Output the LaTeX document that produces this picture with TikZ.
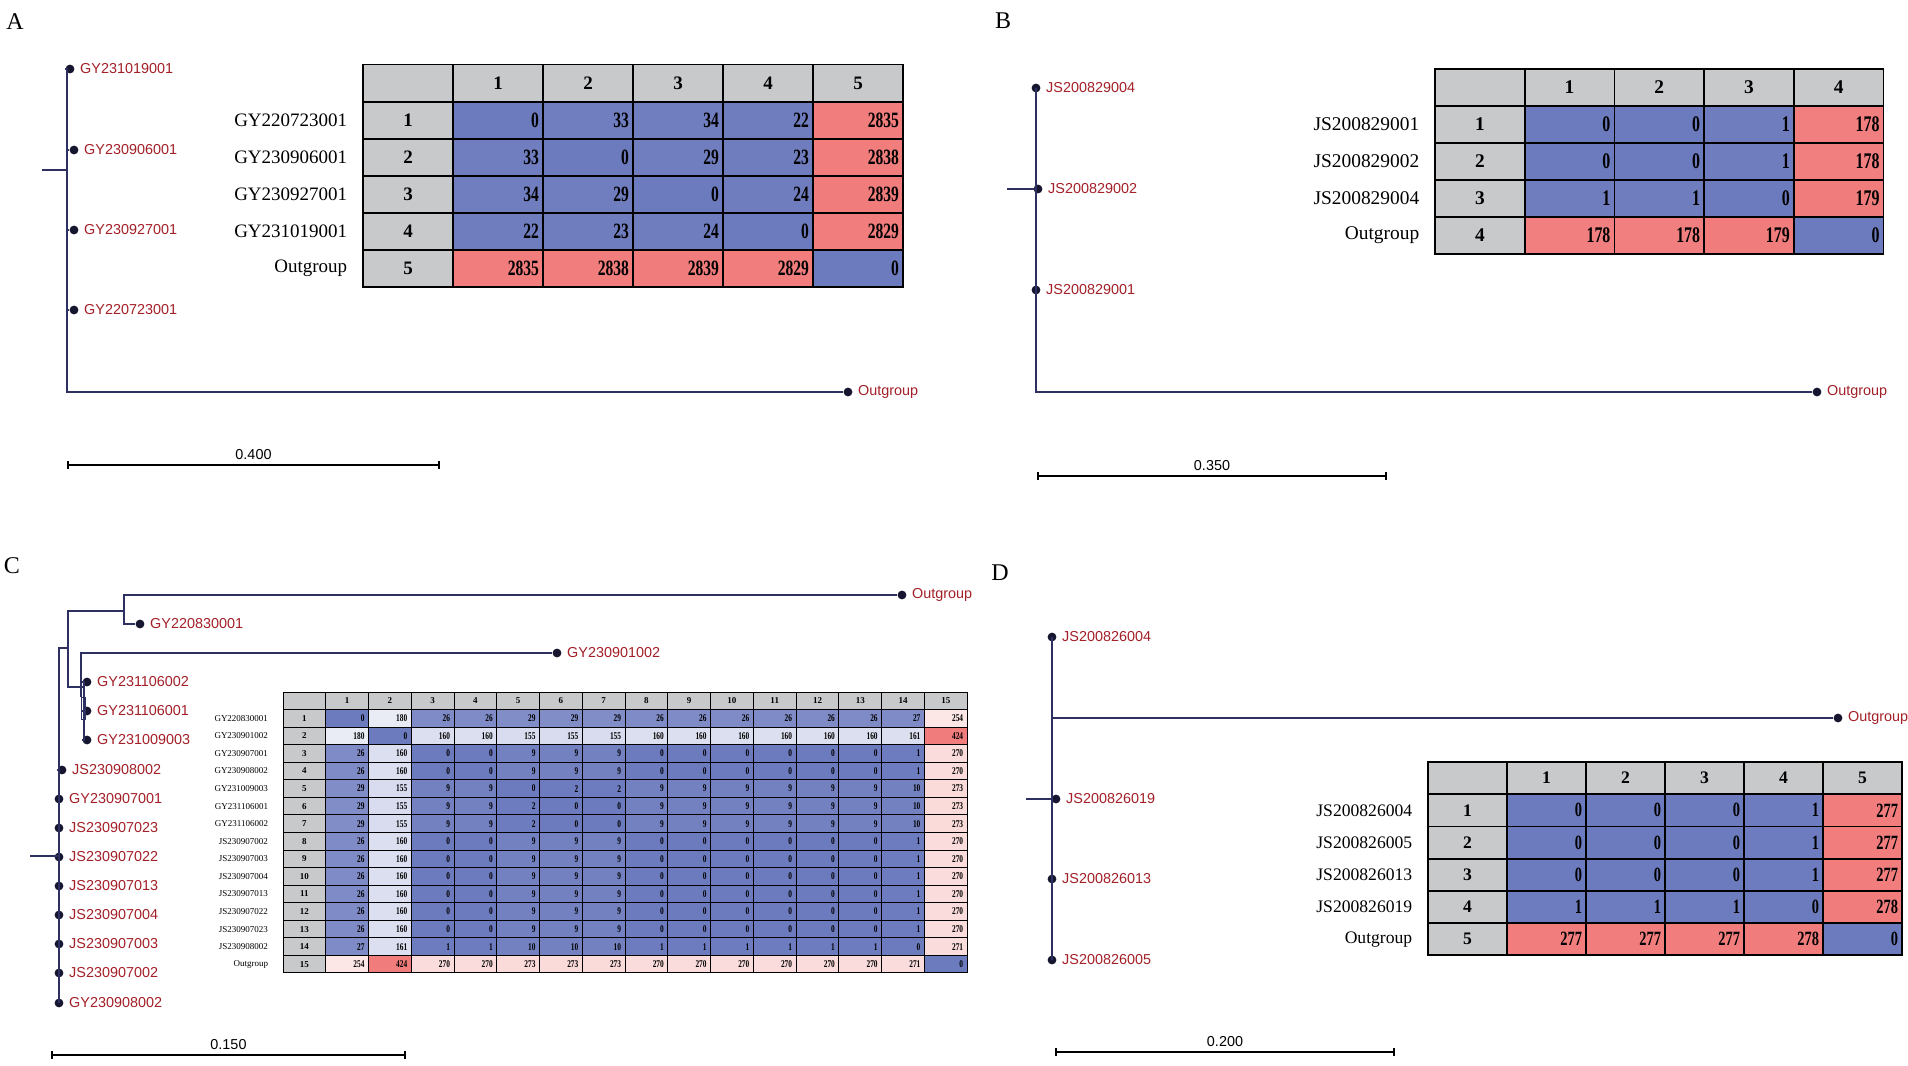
\documentclass[tikz,border=0pt]{standalone}
\usepackage{fontspec}
\setmainfont{Liberation Serif}
\setsansfont{Liberation Sans}
\usetikzlibrary{positioning, arrows.meta}

\definecolor{treeline}{RGB}{46,48,98}
\definecolor{tipdot}{RGB}{22,22,48}
\definecolor{taxred}{RGB}{163,32,40}
\definecolor{cblue}{RGB}{108,122,190}
\definecolor{cred}{RGB}{241,124,124}
\definecolor{cgray}{RGB}{200,201,203}

% distance matrix: prefix, x0, y0, cell w, cell h, max value, scope options, row names, values
\newcommand{\distmatrix}[9]{%
  \begin{scope}[#7, every node/.append style={minimum width=#4*0.5pt, minimum height=#5*0.5pt}]
    \pgfmathsetmacro{\tw}{#4*0.5-4}
    \node[hdcell] (#1-0-0) at ({#2+0.5*#4},{#3+0.5*#5}) {};
    \foreach \lab [count=\r] in {#8} {
      \node[hdcell] (#1-0-\r) at ({#2+(\r+0.5)*#4},{#3+0.5*#5}) {\r};
      \node[hdcell] (#1-\r-0) at ({#2+0.5*#4},{#3+(\r+0.5)*#5}) {\r};
      \node[rowlab, left=7pt of #1-\r-0] (#1-name-\r) {\mdseries\lab};
    }
    \foreach \row [count=\r] in {#9} {
      \foreach \v [count=\c] in \row {
        \pgfmathtruncatemacro{\bp}{max(0,100-200*(\v/#6))}
        \pgfmathtruncatemacro{\rp}{max(0,200*(\v/#6)-100)}
        \ifnum\rp>0 \def\cellcol{cred!\rp!white}\else\def\cellcol{cblue!\bp!white}\fi
        \node[valcell, fill=\cellcol, text width=\tw pt] (#1-\r-\c) at ({#2+(\c+0.5)*#4},{#3+(\r+0.5)*#5}) {\scalebox{0.82}[1.15]{\v}};
      }
    }
  \end{scope}}

\begin{document}
\begin{tikzpicture}[x=0.5pt, y=-0.5pt]
  \tikzstyle{branch} = [draw=treeline, line width=1pt]
  \tikzstyle{tip} = [circle, fill=tipdot, inner sep=0pt, minimum size=4.4pt]
  \tikzstyle{taxon} = [font=\sffamily\fontsize{7.2}{7.2}\selectfont, text=taxred, inner sep=0pt]
  \tikzstyle{scalebar} = [line width=0.9pt, {Bar[width=4pt]}-{Bar[width=4pt]}]
  \tikzstyle{barlabel} = [font=\sffamily\fontsize{7.2}{7.2}\selectfont, inner sep=0pt]
  \tikzstyle{panel} = [font=\fontsize{12}{12}\selectfont, inner sep=0pt]
  \tikzstyle{hdcell} = [draw, fill=cgray, inner sep=0pt]
  \tikzstyle{valcell} = [draw, inner sep=1.5pt, align=right]
  \tikzstyle{rowlab} = [minimum width=0pt, minimum height=0pt, inner sep=0pt]

  \useasboundingbox (0,0) rectangle (1908,1066);
  \fill[white] (0,0) rectangle (1908,1066);

  % Panel letters
  \node[panel] (A-tag) at (15,22) {A};
  \node[panel] (B-tag) at (1003,21) {B};
  \node[panel] (C-tag) at (12,566) {C};
  \node[panel] (D-tag) at (1000,573) {D};

  % Tree A
  \coordinate (A-root) at (42,170);
  \coordinate (A-node) at (67,170);
  \node[tip] (A-t1) at (70,69) {};
  \node[tip] (A-t2) at (74,150) {};
  \node[tip] (A-t3) at (74,230) {};
  \node[tip] (A-t4) at (74,310) {};
  \node[tip] (A-out) at (848,392) {};
  \node[taxon, right=2.5pt of A-t1] (A-l1) {GY231019001};
  \node[taxon, right=2.5pt of A-t2] (A-l2) {GY230906001};
  \node[taxon, right=2.5pt of A-t3] (A-l3) {GY230927001};
  \node[taxon, right=2.5pt of A-t4] (A-l4) {GY220723001};
  \node[taxon, right=2.5pt of A-out] (A-lout) {Outgroup};
  \draw[branch] (A-root) -- (A-node);
  \foreach \t in {t1,t2,t3,t4,out} \draw[branch] (A-node) |- (A-\t);
  \coordinate (A-s0) at (67,465);
  \coordinate (A-s1) at (440,465);
  \draw[scalebar] (A-s0) -- (A-s1) node[barlabel, midway, above=2pt] (A-scale) {0.400};

  % Tree B
  \coordinate (B-root) at (1007,189);
  \coordinate (B-node) at (1036,189);
  \node[tip] (B-t1) at (1036,88) {};
  \node[tip] (B-t2) at (1038,189) {};
  \node[tip] (B-t3) at (1036,290) {};
  \node[tip] (B-out) at (1817,392) {};
  \node[taxon, right=2.5pt of B-t1] (B-l1) {JS200829004};
  \node[taxon, right=2.5pt of B-t2] (B-l2) {JS200829002};
  \node[taxon, right=2.5pt of B-t3] (B-l3) {JS200829001};
  \node[taxon, right=2.5pt of B-out] (B-lout) {Outgroup};
  \draw[branch] (B-root) -- (B-node);
  \foreach \t in {t1,t2,t3,out} \draw[branch] (B-node) |- (B-\t);
  \coordinate (B-s0) at (1037,476);
  \coordinate (B-s1) at (1387,476);
  \draw[scalebar] (B-s0) -- (B-s1) node[barlabel, midway, above=2pt] (B-scale) {0.350};

  % Tree C
  \coordinate (C-root) at (30,856);
  \coordinate (C-n0) at (59,856);
  \coordinate (C-n1) at (68,648);
  \coordinate (C-n2) at (124,611);
  \coordinate (C-n3) at (84,687);
  \coordinate (C-n4) at (81,697);
  \node[tip] (C-out) at (902,595) {};
  \node[tip] (C-t1) at (140,624) {};
  \node[tip] (C-t2) at (557,653) {};
  \node[tip] (C-t3) at (87,682) {};
  \node[tip] (C-t4) at (87,711) {};
  \node[tip] (C-t5) at (87,740) {};
  \node[tip] (C-t6) at (62,770) {};
  \node[tip] (C-t7) at (59,799) {};
  \node[tip] (C-t8) at (59,828) {};
  \node[tip] (C-t9) at (59,857) {};
  \node[tip] (C-t10) at (59,886) {};
  \node[tip] (C-t11) at (59,915) {};
  \node[tip] (C-t12) at (59,944) {};
  \node[tip] (C-t13) at (59,973) {};
  \node[tip] (C-t14) at (59,1003) {};
  \node[taxon, right=2.5pt of C-out] (C-lout) {Outgroup};
  \node[taxon, right=2.5pt of C-t1] (C-l1) {GY220830001};
  \node[taxon, right=2.5pt of C-t2] (C-l2) {GY230901002};
  \node[taxon, right=2.5pt of C-t3] (C-l3) {GY231106002};
  \node[taxon, right=2.5pt of C-t4] (C-l4) {GY231106001};
  \node[taxon, right=2.5pt of C-t5] (C-l5) {GY231009003};
  \node[taxon, right=2.5pt of C-t6] (C-l6) {JS230908002};
  \node[taxon, right=2.5pt of C-t7] (C-l7) {GY230907001};
  \node[taxon, right=2.5pt of C-t8] (C-l8) {JS230907023};
  \node[taxon, right=2.5pt of C-t9] (C-l9) {JS230907022};
  \node[taxon, right=2.5pt of C-t10] (C-l10) {JS230907013};
  \node[taxon, right=2.5pt of C-t11] (C-l11) {JS230907004};
  \node[taxon, right=2.5pt of C-t12] (C-l12) {JS230907003};
  \node[taxon, right=2.5pt of C-t13] (C-l13) {JS230907002};
  \node[taxon, right=2.5pt of C-t14] (C-l14) {GY230908002};
  \draw[branch] (C-root) -- (C-n0);
  \draw[branch] (C-n0) |- (C-n1);
  \draw[branch] (C-n1) |- (C-n2);
  \draw[branch] (C-n2) |- (C-out);
  \draw[branch] (C-n2) |- (C-t1);
  \draw[branch] (C-n1) |- (C-n3);
  \foreach \t in {t3,t4,t5} \draw[branch] (C-n3) |- (C-\t);
  \draw[branch] (C-n4) |- (C-t2);
  \draw[branch, line width=0.4pt] (C-n4) rectangle ++(4,22);
  \foreach \t in {t6,t7,t8,t9,t10,t11,t12,t13,t14} \draw[branch] (C-n0) |- (C-\t);
  \coordinate (C-s0) at (51,1055);
  \coordinate (C-s1) at (406,1055);
  \draw[scalebar] (C-s0) -- (C-s1) node[barlabel, midway, above=2pt] (C-scale) {0.150};

  % Tree D
  \coordinate (D-root) at (1026,799);
  \coordinate (D-node) at (1052,799);
  \node[tip] (D-t1) at (1052,637) {};
  \node[tip] (D-out) at (1838,718) {};
  \node[tip] (D-t2) at (1056,799) {};
  \node[tip] (D-t3) at (1052,879) {};
  \node[tip] (D-t4) at (1052,960) {};
  \node[taxon, right=2.5pt of D-t1] (D-l1) {JS200826004};
  \node[taxon, right=2.5pt of D-out] (D-lout) {Outgroup};
  \node[taxon, right=2.5pt of D-t2] (D-l2) {JS200826019};
  \node[taxon, right=2.5pt of D-t3] (D-l3) {JS200826013};
  \node[taxon, right=2.5pt of D-t4] (D-l4) {JS200826005};
  \draw[branch] (D-root) -- (D-node);
  \foreach \t in {t1,out,t2,t3,t4} \draw[branch] (D-node) |- (D-\t);
  \coordinate (D-s0) at (1055,1052);
  \coordinate (D-s1) at (1395,1052);
  \draw[scalebar] (D-s0) -- (D-s1) node[barlabel, midway, above=2pt] (D-scale) {0.200};

  % Distance matrices
  \distmatrix{MA}{363}{64.5}{90}{37.1}{2839}{font=\fontsize{9.5}{9.5}\selectfont\bfseries, line width=0.9pt}
    {GY220723001,GY230906001,GY230927001,GY231019001,Outgroup}
    {{0,33,34,22,2835},{33,0,29,23,2838},{34,29,0,24,2839},{22,23,24,0,2829},{2835,2838,2839,2829,0}}

  \distmatrix{MB}{1435}{69}{89.7}{37}{179}{font=\fontsize{9.7}{9.7}\selectfont\bfseries, line width=0.9pt}
    {JS200829001,JS200829002,JS200829004,Outgroup}
    {{0,0,1,178},{0,0,1,178},{1,1,0,179},{178,178,179,0}}

  \distmatrix{MD}{1428}{762}{79}{32.2}{278}{font=\fontsize{8.8}{8.8}\selectfont\bfseries, line width=0.9pt}
    {JS200826004,JS200826005,JS200826013,JS200826019,Outgroup}
    {{0,0,0,1,277},{0,0,0,1,277},{0,0,0,1,277},{1,1,1,0,278},{277,277,277,278,0}}

  \distmatrix{MC}{283}{692}{42.76}{17.56}{424}{font=\fontsize{4.5}{4.5}\selectfont\bfseries, line width=0.5pt}
    {GY220830001,GY230901002,GY230907001,GY230908002,GY231009003,GY231106001,GY231106002,JS230907002,JS230907003,JS230907004,JS230907013,JS230907022,JS230907023,JS230908002,Outgroup}
    {{0,180,26,26,29,29,29,26,26,26,26,26,26,27,254},
     {180,0,160,160,155,155,155,160,160,160,160,160,160,161,424},
     {26,160,0,0,9,9,9,0,0,0,0,0,0,1,270},
     {26,160,0,0,9,9,9,0,0,0,0,0,0,1,270},
     {29,155,9,9,0,2,2,9,9,9,9,9,9,10,273},
     {29,155,9,9,2,0,0,9,9,9,9,9,9,10,273},
     {29,155,9,9,2,0,0,9,9,9,9,9,9,10,273},
     {26,160,0,0,9,9,9,0,0,0,0,0,0,1,270},
     {26,160,0,0,9,9,9,0,0,0,0,0,0,1,270},
     {26,160,0,0,9,9,9,0,0,0,0,0,0,1,270},
     {26,160,0,0,9,9,9,0,0,0,0,0,0,1,270},
     {26,160,0,0,9,9,9,0,0,0,0,0,0,1,270},
     {26,160,0,0,9,9,9,0,0,0,0,0,0,1,270},
     {27,161,1,1,10,10,10,1,1,1,1,1,1,0,271},
     {254,424,270,270,273,273,273,270,270,270,270,270,270,271,0}}
\end{tikzpicture}
\end{document}
